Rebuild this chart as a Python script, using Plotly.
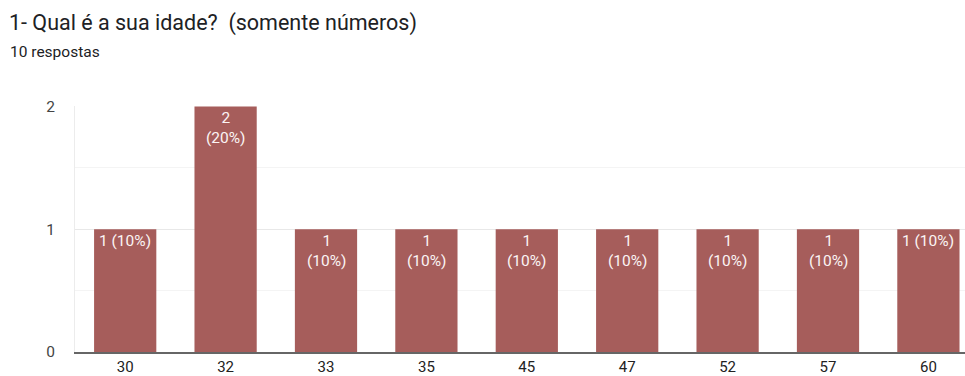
import plotly.graph_objects as go

ages = ["30", "32", "33", "35", "45", "47", "52", "57", "60"]
counts = [1, 2, 1, 1, 1, 1, 1, 1, 1]
total = 10
# label layout as in the source: one line for edge bars, wrapped otherwise
separators = [" ", "<br>", "<br>", "<br>", "<br>", "<br>", "<br>", "<br>", " "]

labels = [f"{c}{sep}({round(100 * c / total)}%)" for c, sep in zip(counts, separators)]

BAR = "#a65d5b"

fig = go.Figure(
    go.Bar(
        x=ages,
        y=counts,
        marker=dict(color=BAR, line=dict(width=0)),
        hoverinfo="skip",
    )
)

label_annotations = [
    dict(
        x=i,
        y=c,
        xref="x",
        yref="y",
        text=t,
        showarrow=False,
        xanchor="center",
        yanchor="top",
        yshift=-1,
        align="center",
        font=dict(family="Roboto", size=15.5, color="#fbf4f4"),
    )
    for i, (c, t) in enumerate(zip(counts, labels))
]

fig.update_layout(
    width=965,
    height=376,
    margin=dict(l=75, r=0, t=106, b=24, autoexpand=False),
    paper_bgcolor="white",
    plot_bgcolor="white",
    bargap=0.38,
    showlegend=False,
    font=dict(family="Roboto", color="#222222"),
    title=dict(
        text="1- Qual é a sua idade?  (somente números)",
        x=9 / 965,
        xanchor="left",
        xref="container",
        y=1 - 22 / 376,
        yanchor="middle",
        yref="container",
        font=dict(family="Roboto", size=21.5, color="#202124"),
    ),
    annotations=[
        dict(
            text="10 respostas",
            xref="paper",
            yref="paper",
            x=(8 - 75) / 890,
            y=(352 - 52) / 246,
            xanchor="left",
            yanchor="middle",
            showarrow=False,
            font=dict(family="Roboto", size=15.5, color="#202124"),
        )
    ] + label_annotations,
)

fig.update_xaxes(
    type="category",
    range=[-0.5, -0.5 + 890 / 100.4],
    showgrid=False,
    showline=True,
    linecolor="#666666",
    linewidth=2,
    ticks="",
    tickfont=dict(family="Roboto", size=15, color="#222222"),
    automargin=False,
    fixedrange=True,
)

fig.update_yaxes(
    range=[0, 2.004],
    tickvals=[0, 1, 2],
    showgrid=True,
    gridcolor="#e8e8e8",
    gridwidth=1,
    zeroline=False,
    showline=True,
    linecolor="#ececec",
    linewidth=1,
    minor=dict(dtick=0.5, showgrid=True, gridcolor="#f4f4f4", gridwidth=1),
    ticks="outside",
    ticklen=16,
    tickcolor="rgba(0,0,0,0)",
    tickfont=dict(family="Roboto", size=15.5, color="#444444"),
    automargin=False,
    fixedrange=True,
)

fig.write_html("out.html")
